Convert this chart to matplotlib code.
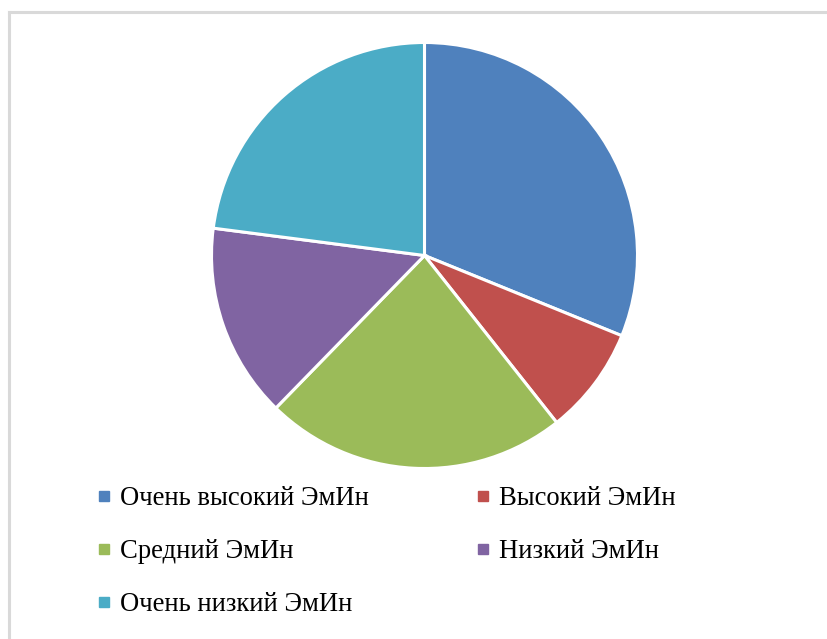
import matplotlib
matplotlib.use("Agg")
import matplotlib.pyplot as plt
from matplotlib.lines import Line2D

labels = ["Очень высокий ЭмИн", "Высокий ЭмИн", "Средний ЭмИн",
          "Низкий ЭмИн", "Очень низкий ЭмИн"]
counts = [19, 5, 14, 9, 14]
colors = ["#4F81BD", "#C0504D", "#9BBB59", "#8064A2", "#4BACC6"]

W, H = 828, 639
fig = plt.figure(figsize=(W / 100, H / 100), dpi=100)
plt.rcParams['font.family'] = ['Liberation Serif', 'DejaVu Serif']

# рамка диаграммы (видны только левая и верхняя стороны)
fig.add_artist(Line2D([8.5 / W, 8.5 / W], [0, 1 - 11.5 / H], color="#d9d9d9", lw=2.2,
                      transform=fig.transFigure))
fig.add_artist(Line2D([8.5 / W, 1], [1 - 11.5 / H, 1 - 11.5 / H], color="#d9d9d9", lw=2.2,
                      transform=fig.transFigure))

cx, cy, r = 424.5, 255.5, 213
ax = fig.add_axes([(cx - r) / W, (H - cy - r) / H, 2 * r / W, 2 * r / H])
ax.pie(counts, colors=colors, startangle=90, counterclock=False,
       wedgeprops=dict(edgecolor="white", linewidth=2.2))
ax.set_xlim(-1, 1)
ax.set_ylim(-1, 1)
ax.set_aspect("equal")
ax.axis("off")

handles = [Line2D([], [], marker="s", linestyle="", color=c, markersize=7) for c in colors]
order = [0, 2, 4, 1, 3]
fig.legend([handles[i] for i in order], [labels[i] for i in order],
           ncol=2, loc="upper left", bbox_to_anchor=(96 / W, 1 - 486 / H),
           frameon=False, fontsize=19.2, handlelength=0.6, handletextpad=0.3,
           labelspacing=1.05, columnspacing=3.98, borderaxespad=0, borderpad=0)

fig.savefig("out.png", dpi=100)
